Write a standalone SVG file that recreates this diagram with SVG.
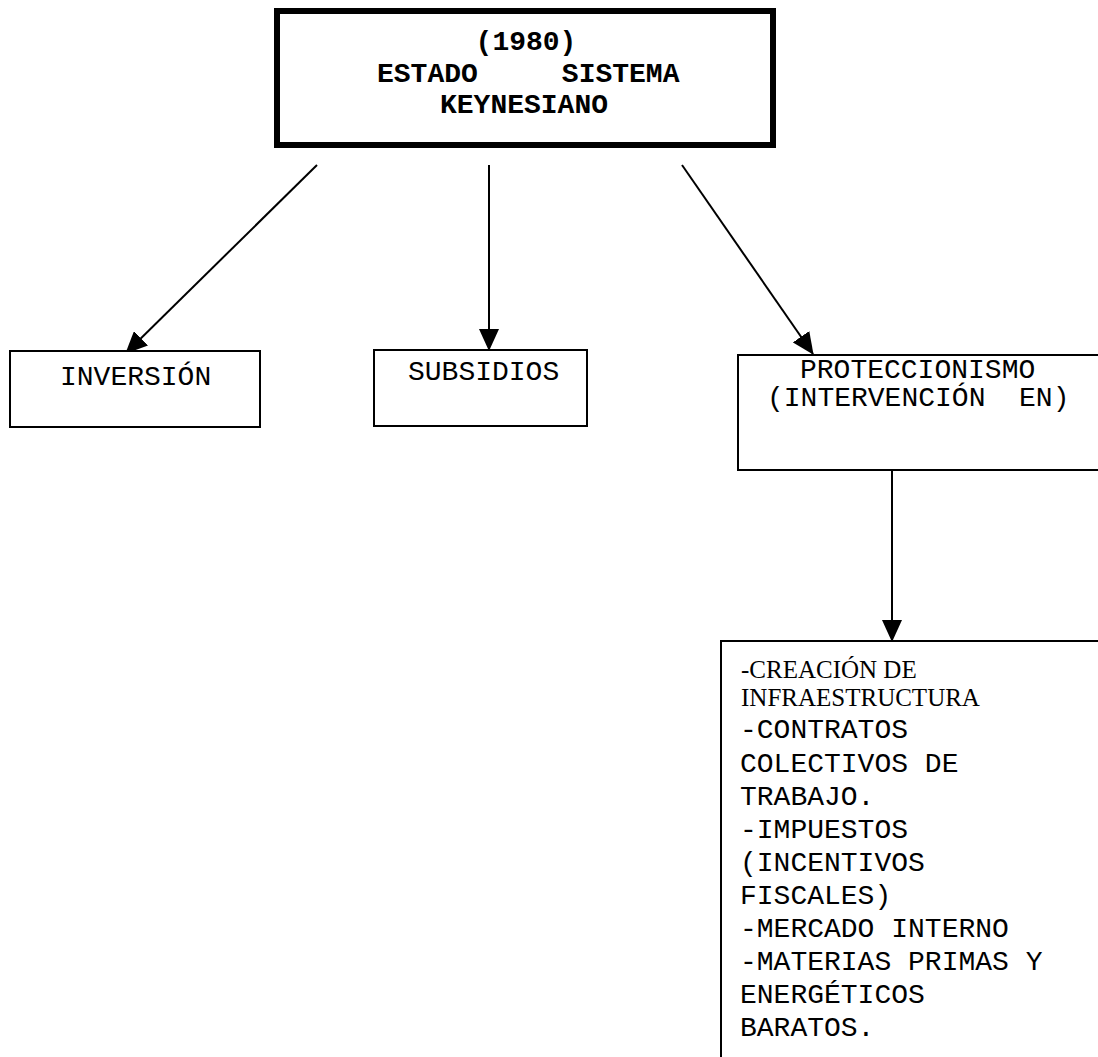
<svg xmlns="http://www.w3.org/2000/svg" width="1098" height="1057" viewBox="0 0 1098 1057">
<style>
.box{fill:#fff;stroke:#000;stroke-width:2}
.main{fill:#fff;stroke:#000;stroke-width:6}
.mono{font-family:"Liberation Mono","Courier New",monospace;font-size:28px;fill:#000}
.monob{font-family:"Liberation Mono","Courier New",monospace;font-size:28px;font-weight:bold;fill:#000}
.serif{font-family:"Liberation Serif","Times New Roman",serif;font-size:25px;fill:#000}
.conn{stroke:#000;stroke-width:2;fill:none}
</style>
<defs>
<marker id="ah" markerUnits="userSpaceOnUse" markerWidth="22" markerHeight="20" viewBox="0 0 22 20" refX="21" refY="10" orient="auto">
<path d="M0,0 L22,10 L0,20 Z" fill="#000"/>
</marker>
</defs>
<rect width="1098" height="1057" fill="#fff"/>
<g id="connectors">
<line class="conn" x1="317" y1="165" x2="126" y2="353" marker-end="url(#ah)"/>
<line class="conn" x1="489" y1="165" x2="489" y2="350" marker-end="url(#ah)"/>
<line class="conn" x1="682" y1="165" x2="813" y2="354" marker-end="url(#ah)"/>
<line class="conn" x1="892" y1="470" x2="892" y2="641" marker-end="url(#ah)"/>
</g>
<g id="node-estado">
<rect class="main" x="277" y="11" width="496" height="134"/>
<text class="monob" x="526" y="50" text-anchor="middle">(1980)</text>
<text class="monob" x="377" y="82" xml:space="preserve">ESTADO     SISTEMA</text>
<text class="monob" x="524" y="113" text-anchor="middle">KEYNESIANO</text>
</g>
<g id="node-inversion">
<rect class="box" x="10" y="351" width="250" height="76"/>
<text class="mono" x="60" y="385">INVERSIÓN</text>
</g>
<g id="node-subsidios">
<rect class="box" x="374" y="350" width="213" height="76"/>
<text class="mono" x="408" y="380">SUBSIDIOS</text>
</g>
<g id="node-proteccionismo">
<rect class="box" x="738" y="355" width="370" height="115"/>
<text class="mono" x="800" y="378">PROTECCIONISMO</text>
<text class="mono" x="767" y="406" xml:space="preserve">(INTERVENCIÓN  EN)</text>
</g>
<g id="node-lista">
<rect class="box" x="721" y="641" width="390" height="430"/>
<text class="serif" x="741" y="678">-CREACIÓN DE</text>
<text class="serif" x="741" y="706">INFRAESTRUCTURA</text>
<text class="mono" x="740" y="738">-CONTRATOS</text>
<text class="mono" x="740" y="772">COLECTIVOS DE</text>
<text class="mono" x="740" y="805">TRABAJO.</text>
<text class="mono" x="740" y="838">-IMPUESTOS</text>
<text class="mono" x="740" y="871">(INCENTIVOS</text>
<text class="mono" x="740" y="904">FISCALES)</text>
<text class="mono" x="740" y="937">-MERCADO INTERNO</text>
<text class="mono" x="740" y="970">-MATERIAS PRIMAS Y</text>
<text class="mono" x="740" y="1003">ENERGÉTICOS</text>
<text class="mono" x="740" y="1036">BARATOS.</text>
</g>
</svg>
